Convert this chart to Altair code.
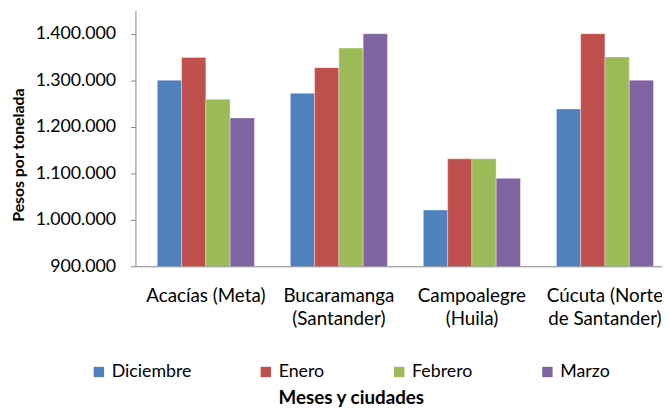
import json
import altair as alt
import pandas as pd

cities = ["Acacías (Meta)", "Bucaramanga (Santander)", "Campoalegre (Huila)", "Cúcuta (Norte de Santander)"]
city_lines = [["Acacías (Meta)"], ["Bucaramanga", "(Santander)"], ["Campoalegre", "(Huila)"], ["Cúcuta (Norte", "de Santander)"]]
months = ["Diciembre", "Enero", "Febrero", "Marzo"]
colors = ["#4F81BD", "#C0504D", "#9BBB59", "#8064A2"]

diciembre = [1300000, 1272000, 1021000, 1238000]
enero = [1349000, 1327000, 1131000, 1400000]
febrero = [1259000, 1369000, 1131000, 1350000]
marzo = [1219000, 1400000, 1089000, 1300000]

rows = []
for m, vals in zip(months, [diciembre, enero, febrero, marzo]):
    for c, v in zip(cities, vals):
        rows.append({"ciudad": c, "mes": m, "valor": v})
df = pd.DataFrame(rows)

label_map = json.dumps(dict(zip(cities, city_lines)), ensure_ascii=False)

FONT = "Lato"

chart = alt.Chart(df).mark_bar(clip=True, stroke="white", strokeWidth=0.6, strokeOpacity=0.6).encode(
    x=alt.X("ciudad:N", sort=cities,
            scale=alt.Scale(paddingInner=0.27, paddingOuter=0.114, align=0.72),
            axis=alt.Axis(title="Meses y ciudades", labelAngle=0, ticks=False,
                          labelExpr=f"{label_map}[datum.label]",
                          labelPadding=21, labelFontSize=19, labelLineHeight=23,
                          labelFont=FONT, labelColor="#000000",
                          labelBaseline="top",
                          titleFont=FONT, titleFontSize=19, titleFontWeight="bold",
                          titleColor="#000000", titleX=218, titleY=124,
                          titleAlign="center", titleBaseline="top",
                          domainColor="#868686", domainWidth=1)),
    xOffset=alt.XOffset("mes:N", sort=months, scale=alt.Scale(paddingInner=0, paddingOuter=0)),
    y=alt.Y("valor:Q", scale=alt.Scale(domain=[900000, 1450000], nice=False, zero=False),
            axis=alt.Axis(title="Pesos por tonelada", values=[900000, 1000000, 1100000, 1200000, 1300000, 1400000],
                          labelExpr="join(split(format(datum.value, ','), ','), '.')",
                          grid=False, tickSize=5, tickColor="#868686", labelPadding=15,
                          labelFont=FONT, labelFontSize=18, labelColor="#000000",
                          titleFont=FONT, titleFontSize=16, titleFontWeight="bold",
                          titleColor="#000000", titleX=-118, titleY=146, titleAngle=270,
                          titleAlign="center", titleBaseline="middle",
                          domainColor="#868686", domainWidth=1)),
    color=alt.Color("mes:N", sort=months, scale=alt.Scale(domain=months, range=colors),
                    legend=alt.Legend(title=None, orient="none", legendX=-46, legendY=357,
                                      direction="horizontal", gridAlign="none", columnPadding=66,
                                      symbolType="square", symbolSize=110, symbolStrokeWidth=0,
                                      labelFont=FONT, labelFontSize=18, labelColor="#000000",
                                      labelOffset=4)),
).properties(
    width=533, height=259,
    autosize=alt.AutoSizeParams(type="none"),
    padding={"left": 129, "top": 0, "right": 0, "bottom": 141},
).configure_view(stroke=None)

chart.save("out.html", embed_options={"renderer": "svg", "actions": False})
